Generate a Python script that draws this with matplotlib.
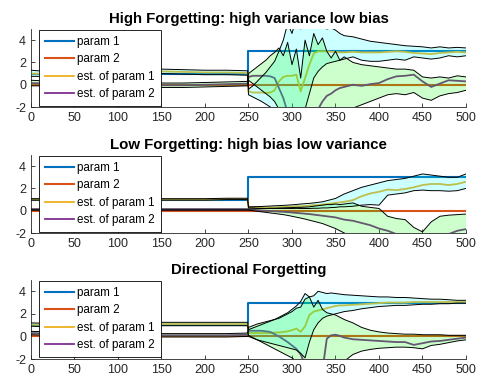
import numpy as np
import matplotlib
matplotlib.use('Agg')
import matplotlib.pyplot as plt

plt.rcParams['font.family'] = ['Liberation Sans', 'DejaVu Sans']
plt.rcParams['axes.unicode_minus'] = False

# common time grid of the estimates / bands
t = [0, 25, 50, 75, 100, 125, 150, 175, 200, 225, 249,
     250, 255, 260, 265, 270, 275, 280, 285, 290, 295, 300, 305, 310, 315, 320, 325, 330, 335, 340, 345, 350, 355, 360,
     370, 380, 390, 400, 410, 420, 430, 440, 450, 460, 470, 480, 490, 500]

# true parameters
true_t = [0, 249, 249, 500]
param1 = [1, 1, 3, 3]
param2 = [0, 0, 0, 0]

titles = ["High Forgetting: high variance low bias",
          "Low Forgetting: high bias low variance",
          "Directional Forgetting"]
labels = ["param 1", "param 2", "est. of param 1", "est. of param 2"]

# ---------- panel 1 : high forgetting ----------
p1_est1 = [1.0, 0.95, 1.0, 1.1, 1.1, 1.15, 1.2, 1.15, 1.1, 1.1, 1.05,
           -0.6, -0.7, -0.7, -0.7, -0.75, -0.7, -0.5, 0.3, 0.7, 0.8, 0.8, 0.9, -0.6, 0.6, 1.8, 2.8, 3.0, 3.0, 3.0, 2.95, 2.95, 2.9, 2.9,
           2.95, 2.9, 2.9, 2.9, 2.95, 3.0, 2.95, 2.85, 2.8, 2.75, 2.85, 2.9, 2.95, 2.9]
p1_est2 = [0.15, 0.1, 0.05, 0.05, 0.05, 0.0, -0.05, -0.05, 0.0, 0.05, 0.1,
           0.7, 0.8, 0.8, 0.8, 0.8, 0.75, 0.6, -0.3, -1.2, -2.5, -3, -3, -3, -3, -3, -3, -2.2, -1.5, -1.0, -0.8, -0.5, -0.3, -0.2,
           0.0, -0.1, 0.05, 0.15, 0.5, 0.75, 0.8, 0.9, 0.3, -0.2, 0.1, 0.4, 0.35, 0.3]
p1_lo1 = [0.75, 0.75, 0.8, 0.9, 0.9, 0.95, 1.0, 0.95, 0.9, 0.9, 0.85,
          -0.9, -1.1, -1.3, -1.5, -1.75, -2.0, -2.3, -2.6, -2.8, -3.0, -3.0, -2.6, -3.0, -2.2, -0.8, 0.6, 1.2, 1.6, 1.9, 2.0, 2.1, 2.2, 2.3,
          2.5, 2.2, 2.1, 2.1, 2.2, 2.3, 2.2, 2.5, 2.4, 2.3, 2.4, 2.6, 2.5, 2.6]
p1_hi1 = [1.3, 1.15, 1.2, 1.3, 1.3, 1.35, 1.4, 1.35, 1.3, 1.3, 1.25,
          -0.4, -0.1, 0.3, 0.7, 1.1, 1.6, 2.1, 3.0, 4.0, 5.5, 4.6, 6.0, 5.0, 6.0, 5.6, 6.0, 5.6, 5.2, 5.0, 5.1, 4.9, 4.6, 4.4,
          4.3, 4.1, 3.9, 3.8, 3.7, 3.6, 3.5, 3.45, 3.4, 3.3, 3.4, 3.3, 3.35, 3.3]
p1_lo2 = [-0.1, -0.1, -0.15, -0.15, -0.15, -0.2, -0.25, -0.25, -0.2, -0.15, -0.1,
          0.4, 0.1, -0.2, -0.5, -0.8, -1.1, -1.5, -2.2, -3, -3, -3, -3, -3, -3, -3, -3, -3, -3, -3, -3, -2.8, -2.6, -2.4,
          -2.1, -1.8, -1.5, -1.2, -0.9, -0.8, -0.9, -0.7, -1.2, -1.4, -1.0, -0.8, -0.7, -0.5]
p1_hi2 = [0.4, 0.3, 0.25, 0.25, 0.25, 0.2, 0.15, 0.15, 0.2, 0.25, 0.3,
          1.0, 1.3, 1.6, 1.9, 2.2, 2.6, 2.9, 3.3, 2.6, 3.8, 1.8, 3.2, 0.6, 4.0, 2.6, 4.6, 3.6, 4.2, 3.0, 2.4, 3.0, 2.2, 2.5,
          2.0, 1.8, 1.7, 1.6, 1.5, 1.4, 1.4, 1.3, 0.7, 0.6, 0.7, 0.6, 0.8, 0.7]

# ---------- panel 2 : low forgetting ----------
p2_est1 = [1.0, 1.0, 1.0, 1.0, 1.0, 1.0, 1.0, 1.0, 1.0, 1.05, 1.05,
           0.3, 0.3, 0.28, 0.28, 0.3, 0.3, 0.3, 0.32, 0.33, 0.35, 0.37, 0.4, 0.4, 0.42, 0.45, 0.5, 0.5, 0.55, 0.6, 0.65, 0.7, 0.75, 0.8,
           0.95, 1.3, 1.55, 1.7, 1.9, 1.85, 1.95, 2.1, 2.3, 2.4, 2.4, 2.3, 2.4, 2.6]
p2_est2 = [0.1, 0.1, 0.1, 0.1, 0.1, 0.1, 0.1, 0.1, 0.1, 0.1, 0.1,
           0.1, 0.08, 0.05, 0.03, 0.0, -0.02, -0.05, -0.08, -0.1, -0.13, -0.16, -0.2, -0.23, -0.27, -0.3, -0.35, -0.4, -0.45, -0.5, -0.55, -0.6, -0.7, -0.8,
           -0.9, -1.1, -1.3, -1.6, -1.8, -2.1, -2.3, -2.4, -2.3, -2.3, -2.2, -2.1, -1.8, -1.65]
p2_lo1 = [0.95, 0.95, 0.95, 0.95, 0.95, 0.95, 0.95, 0.95, 0.95, 1.0, 1.0,
          0.25, 0.25, 0.22, 0.21, 0.2, 0.2, 0.2, 0.2, 0.2, 0.2, 0.2, 0.21, 0.2, 0.2, 0.2, 0.22, 0.22, 0.25, 0.25, 0.28, 0.3, 0.35, 0.35,
          0.4, 0.5, 0.55, 0.5, 1.4, 1.5, 1.6, 1.8, 1.85, 1.8, 1.8, 1.75, 1.8, 2.0]
p2_hi1 = [1.08, 1.08, 1.08, 1.08, 1.08, 1.08, 1.08, 1.08, 1.08, 1.12, 1.12,
          0.35, 0.36, 0.37, 0.38, 0.4, 0.42, 0.44, 0.46, 0.48, 0.5, 0.53, 0.56, 0.6, 0.63, 0.66, 0.7, 0.75, 0.8, 0.9, 1.0, 1.1, 1.3, 1.5,
          1.8, 2.1, 2.3, 2.5, 2.7, 2.8, 2.9, 3.1, 3.3, 3.2, 3.1, 3.0, 3.0, 3.3]
p2_lo2 = [0.05, 0.05, 0.05, 0.05, 0.05, 0.05, 0.05, 0.05, 0.05, 0.05, 0.05,
          0.05, 0.0, -0.05, -0.1, -0.15, -0.2, -0.25, -0.3, -0.35, -0.42, -0.5, -0.58, -0.66, -0.75, -0.85, -0.95, -1.05, -1.15, -1.3, -1.45, -1.6, -1.8, -2.0,
          -2.3, -2.6, -3, -3, -3, -3, -3, -3, -3, -3, -3, -3, -3, -3]
p2_hi2 = [0.15, 0.15, 0.15, 0.15, 0.15, 0.15, 0.15, 0.15, 0.15, 0.15, 0.15,
          0.15, 0.17, 0.18, 0.2, 0.2, 0.22, 0.22, 0.24, 0.25, 0.27, 0.28, 0.3, 0.3, 0.32, 0.35, 0.4, 0.45, 0.5, 0.55, 0.55, 0.6, 0.55, 0.6,
          0.7, 0.4, 0.3, 0.2, -0.5, -0.7, -0.8, -1.5, -1.9, -1.0, -0.5, -0.4, -0.35, -0.3]

# ---------- panel 3 : directional forgetting ----------
p3_est1 = [1.05, 1.0, 1.0, 1.05, 1.05, 1.05, 1.1, 1.1, 1.1, 1.1, 1.1,
           0.3, 0.3, 0.3, 0.3, 0.3, 0.3, 0.35, 0.35, 0.4, 0.45, 0.55, 0.7, 0.4, 0.9, 1.9, 2.2, 2.3, 2.4, 2.5, 2.6, 2.7, 2.75, 2.75,
           2.8, 2.85, 2.9, 2.95, 3.0, 3.0, 3.0, 3.05, 3.05, 3.05, 3.05, 3.05, 3.05, 3.05]
p3_est2 = [0.3, 0.25, 0.2, 0.2, 0.15, 0.15, 0.1, 0.1, 0.1, 0.1, 0.15,
           0.5, 0.5, 0.5, 0.5, 0.45, 0.4, 0.2, 0.0, -0.25, -0.5, -0.8, -1.1, -1.6, -2.5, -3, -3, -3, -3, -0.2, 0.1, 0.15, 0.05, -0.1,
           -0.25, -0.3, -0.35, -0.4, -0.45, -0.5, -0.5, -0.75, -0.6, -0.45, -0.4, -0.3, -0.2, -0.1]
p3_lo1 = [0.9, 0.85, 0.85, 0.9, 0.9, 0.9, 0.95, 0.95, 0.95, 0.95, 0.95,
          0.0, -0.15, -0.3, -0.4, -0.5, -0.6, -0.7, -0.8, -0.9, -1.0, -1.1, -1.2, -1.5, -1.9, -0.5, 0.6, 1.2, 1.6, 1.8, 1.9, 2.0, 2.1, 2.2,
          2.3, 2.45, 2.55, 2.65, 2.7, 2.75, 2.75, 2.8, 2.85, 2.85, 2.9, 2.9, 2.95, 2.95]
p3_hi1 = [1.2, 1.15, 1.15, 1.2, 1.2, 1.2, 1.25, 1.25, 1.25, 1.25, 1.25,
          0.6, 0.75, 0.9, 1.05, 1.2, 1.35, 1.5, 1.7, 1.9, 2.1, 2.4, 2.7, 3.1, 3.8, 3.5, 3.6, 4.0, 3.9, 3.8, 3.85, 3.8, 3.75, 3.7,
          3.65, 3.6, 3.55, 3.5, 3.5, 3.45, 3.45, 3.4, 3.35, 3.3, 3.3, 3.25, 3.2, 3.2]
p3_lo2 = [0.15, 0.1, 0.05, 0.05, 0.0, 0.0, -0.05, -0.05, -0.05, -0.05, 0.0,
          0.1, -0.1, -0.3, -0.5, -0.7, -0.9, -1.1, -1.3, -1.5, -1.7, -1.9, -2.2, -2.6, -3, -3, -3, -3, -3, -3, -3, -3, -2.6, -2.2,
          -1.6, -1.3, -1.15, -1.05, -1.0, -0.95, -0.95, -1.0, -1.1, -0.8, -0.7, -0.55, -0.4, -0.3]
p3_hi2 = [0.45, 0.4, 0.35, 0.35, 0.3, 0.3, 0.25, 0.25, 0.25, 0.25, 0.3,
          0.8, 0.95, 1.1, 1.2, 1.3, 1.4, 1.5, 1.6, 1.8, 2.0, 2.2, 2.5, 2.6, 3.3, 3.5, 2.6, 3.2, 2.4, 2.1, 2.0, 1.9, 1.7, 1.5,
          1.2, 0.8, 0.55, 0.4, 0.3, 0.25, 0.2, 0.2, 0.15, 0.15, 0.15, 0.1, 0.1, 0.1]

panels = [
    (p1_est1, p1_est2, p1_lo1, p1_hi1, p1_lo2, p1_hi2),
    (p2_est1, p2_est2, p2_lo1, p2_hi1, p2_lo2, p2_hi2),
    (p3_est1, p3_est2, p3_lo1, p3_hi1, p3_lo2, p3_hi2),
]

W, H = 489, 389
fig = plt.figure(figsize=(W / 100, H / 100), dpi=100)
axes_px = [(29, 107), (155, 233), (280, 359)]
left_px, right_px = 31, 466

BLUE = '#0072BD'
ORANGE = '#D95319'
YELLOW = '#EDB120'
PURPLE = '#7E2F8E'
AXC = '#262626'

for i, (top, bot) in enumerate(axes_px):
    ax = fig.add_axes([left_px / W, 1 - bot / H, (right_px - left_px) / W, (bot - top) / H])
    e1, e2, lo1, hi1, lo2, hi2 = panels[i]
    l1, = ax.plot(true_t, param1, color=BLUE, lw=1.5, zorder=2)
    l2, = ax.plot(true_t, param2, color=ORANGE, lw=1.5, zorder=2)
    l3, = ax.plot(t, e1, color=YELLOW, lw=1.3, zorder=2)
    l4, = ax.plot(t, e2, color=PURPLE, lw=1.3, zorder=2)
    ax.fill_between(t, lo1, hi1, facecolor=(0, 1, 1), alpha=0.2, edgecolor='none', zorder=3)
    ax.fill_between(t, lo2, hi2, facecolor=(0, 1, 0), alpha=0.2, edgecolor='none', zorder=3)
    for arr in (lo1, hi1, lo2, hi2):
        ax.plot(t, arr, color='black', lw=0.7, zorder=4)
    ax.set_xlim(0, 500)
    ax.set_ylim(-2, 5)
    ax.set_xticks(np.arange(0, 501, 50))
    ax.set_yticks([-2, 0, 2, 4])
    for s in ('top', 'right'):
        ax.spines[s].set_visible(False)
    for s in ('left', 'bottom'):
        ax.spines[s].set_color(AXC)
        ax.spines[s].set_linewidth(0.6)
    ax.tick_params(direction='in', length=3, width=0.6, colors=AXC, labelsize=9, pad=3.5)
    ax.set_title(titles[i], fontsize=10.8, fontweight='bold', pad=4.5, color='black')
    leg = ax.legend([l1, l2, l3, l4], labels, loc='upper left', bbox_to_anchor=(0.018, 0.99),
                    borderaxespad=0, fontsize=8.4, frameon=True, fancybox=False,
                    edgecolor='black', framealpha=1, handlelength=2.5, handletextpad=0.25,
                    labelspacing=0.45, borderpad=0.55)
    leg.get_frame().set_linewidth(0.6)
    leg.set_zorder(10)

fig.savefig('out.png', dpi=100)
